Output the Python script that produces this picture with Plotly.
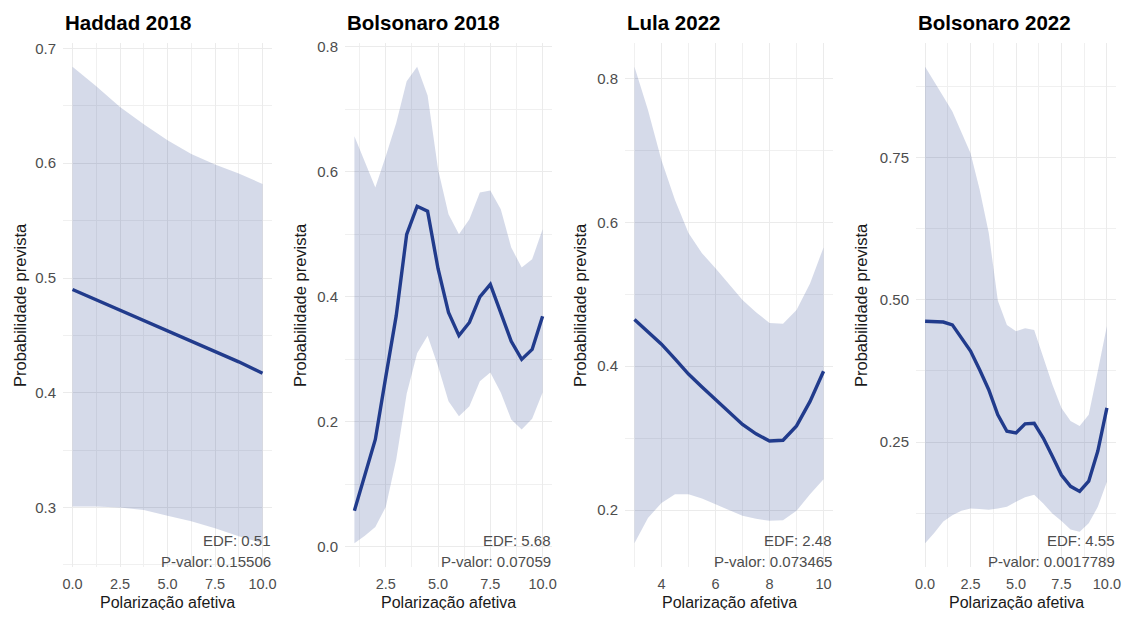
import plotly.graph_objects as go
from plotly.subplots import make_subplots

# Haddad 2018
x_h18 = [0, 1.25, 2.5, 3.75, 5, 6.25, 7.5, 8.75, 10]
fit_h18 = [0.490, 0.481, 0.472, 0.463, 0.454, 0.445, 0.436, 0.427, 0.417]
up_h18 = [0.684, 0.667, 0.649, 0.634, 0.620, 0.608, 0.599, 0.591, 0.582]
lo_h18 = [0.301, 0.301, 0.300, 0.298, 0.293, 0.288, 0.282, 0.275, 0.269]

# Bolsonaro 2018
x_b18 = [1, 1.5, 2, 2.5, 3, 3.5, 4, 4.5, 5, 5.5, 6, 6.5, 7, 7.5, 8, 8.5, 9, 9.5, 10]
fit_b18 = [0.058, 0.115, 0.172, 0.272, 0.37, 0.50, 0.545, 0.537, 0.445, 0.375,
           0.338, 0.359, 0.40, 0.42, 0.375, 0.329, 0.30, 0.316, 0.369]
up_b18 = [0.657, 0.616, 0.575, 0.625, 0.678, 0.745, 0.768, 0.722, 0.604, 0.532,
          0.50, 0.524, 0.567, 0.570, 0.54, 0.479, 0.447, 0.46, 0.508]
lo_b18 = [0.006, 0.018, 0.032, 0.064, 0.14, 0.245, 0.31, 0.338, 0.289, 0.233,
          0.209, 0.225, 0.265, 0.279, 0.247, 0.204, 0.188, 0.205, 0.247]

# Lula 2022
x_l22 = [3, 3.5, 4, 4.5, 5, 5.5, 6, 6.5, 7, 7.5, 8, 8.5, 9, 9.5, 10]
fit_l22 = [0.465, 0.448, 0.4305, 0.41, 0.389, 0.371, 0.354, 0.336, 0.319, 0.306,
           0.296, 0.297, 0.317, 0.351, 0.393]
up_l22 = [0.816, 0.756, 0.686, 0.631, 0.585, 0.557, 0.536, 0.514, 0.492, 0.475,
          0.46, 0.459, 0.478, 0.515, 0.565]
lo_l22 = [0.154, 0.189, 0.21, 0.222, 0.222, 0.216, 0.208, 0.200, 0.192, 0.188,
          0.185, 0.186, 0.199, 0.222, 0.243]

# Bolsonaro 2022
x_b22 = [0, 0.5, 1, 1.5, 2, 2.5, 3, 3.5, 4, 4.5, 5, 5.5, 6, 6.5, 7, 7.5, 8, 8.5, 9, 9.5, 10]
fit_b22 = [0.4625, 0.462, 0.461, 0.456, 0.433, 0.41, 0.377, 0.342, 0.298, 0.269, 0.266,
           0.282, 0.283, 0.257, 0.225, 0.192, 0.172, 0.163, 0.181, 0.234, 0.31]
up_b22 = [0.910, 0.885, 0.858, 0.8315, 0.796, 0.758, 0.694, 0.618, 0.499, 0.456, 0.445,
          0.450, 0.447, 0.398, 0.351, 0.31, 0.287, 0.278, 0.298, 0.375, 0.454]
lo_b22 = [0.072, 0.09, 0.11, 0.121, 0.129, 0.133, 0.132, 0.131, 0.133, 0.136, 0.145,
          0.153, 0.157, 0.142, 0.124, 0.111, 0.096, 0.092, 0.107, 0.136, 0.18]

titles = ["Haddad 2018", "Bolsonaro 2018", "Lula 2022", "Bolsonaro 2022"]
edf = ["EDF: 0.51", "EDF: 5.68", "EDF: 2.48", "EDF: 4.55"]
pval = ["P-valor: 0.15506", "P-valor: 0.07059", "P-valor: 0.073465", "P-valor: 0.0017789"]

xticks = [[0, 2.5, 5, 7.5, 10], [2.5, 5, 7.5, 10], [4, 6, 8, 10], [0, 2.5, 5, 7.5, 10]]
xticktext = [["0.0", "2.5", "5.0", "7.5", "10.0"], ["2.5", "5.0", "7.5", "10.0"],
             ["4", "6", "8", "10"], ["0.0", "2.5", "5.0", "7.5", "10.0"]]
xminor = [1.25, 1.25, 1, 1.25]
yticks = [[0.3, 0.4, 0.5, 0.6, 0.7], [0.0, 0.2, 0.4, 0.6, 0.8], [0.2, 0.4, 0.6, 0.8], [0.25, 0.5, 0.75]]
yticktext = [["0.3", "0.4", "0.5", "0.6", "0.7"], ["0.0", "0.2", "0.4", "0.6", "0.8"],
             ["0.2", "0.4", "0.6", "0.8"], ["0.25", "0.50", "0.75"]]
yminor = [0.05, 0.1, 0.1, 0.125]

panels = [(x_h18, fit_h18, up_h18, lo_h18), (x_b18, fit_b18, up_b18, lo_b18),
          (x_l22, fit_l22, up_l22, lo_l22), (x_b22, fit_b22, up_b22, lo_b22)]

# the page body has an 8px margin, so the figure is drawn 16px smaller
OFF = 8
W, H = 1130 - 2 * OFF, 618 - 2 * OFF
left_px = [63, 345, 625, 916]
right_px = [272, 552, 833, 1116]
ytitle_px = [20, 300, 580, 861]
top_px, bot_px = 43, 567


def px(v):
    return min(1, max(0, (v - OFF) / W))


def py(v):
    return 1 - (v - OFF) / H


navy = "#213b8c"
fillc = "rgba(33,59,140,0.19)"
grid = "#ebebeb"
font = "Liberation Sans, Arial, sans-serif"

fig = make_subplots(rows=1, cols=4)

for i, (xs, fit, up, lo) in enumerate(panels):
    c = i + 1
    fig.add_trace(go.Scatter(x=xs, y=lo, mode="lines", line=dict(width=0, color=navy),
                             showlegend=False, hoverinfo="skip"), row=1, col=c)
    fig.add_trace(go.Scatter(x=xs, y=up, mode="lines", line=dict(width=0, color=navy),
                             fill="tonexty", fillcolor=fillc, showlegend=False,
                             hoverinfo="skip"), row=1, col=c)
    fig.add_trace(go.Scatter(x=xs, y=fit, mode="lines", line=dict(width=3.4, color=navy),
                             showlegend=False), row=1, col=c)

    # ggplot-like 5% expansion
    x0, x1 = min(xs), max(xs)
    y0, y1 = min(lo), max(up)
    dx, dy = (x1 - x0) * 0.05, (y1 - y0) * 0.05

    sfx = "" if c == 1 else str(c)
    fig.layout["xaxis" + sfx].update(
        domain=[px(left_px[i]), px(right_px[i])], range=[x0 - dx, x1 + dx],
        tickvals=xticks[i], ticktext=xticktext[i], showgrid=True, gridcolor=grid,
        gridwidth=1.1, zeroline=False, showline=False, ticks="",
        tickfont=dict(size=14.5, color="#4d4d4d", family=font), ticklabelstandoff=6,
        minor=dict(tick0=0, dtick=xminor[i], showgrid=True, gridcolor="#f0f0f0", gridwidth=0.8),
        automargin=False, fixedrange=True)
    fig.layout["yaxis" + sfx].update(
        domain=[py(bot_px), py(top_px)], range=[y0 - dy, y1 + dy],
        tickvals=yticks[i], ticktext=yticktext[i], showgrid=True, gridcolor=grid,
        gridwidth=1.1, zeroline=False, showline=False, ticks="",
        tickfont=dict(size=15, color="#4d4d4d", family=font), ticklabelstandoff=6,
        minor=dict(tick0=0, dtick=yminor[i], showgrid=True, gridcolor="#f0f0f0", gridwidth=0.8),
        automargin=False, fixedrange=True)

    xd = "x" + sfx + " domain"
    fig.add_annotation(text="<b>" + titles[i] + "</b>", xref=xd, yref="paper",
                       x=0, y=py(22), xanchor="left", yanchor="middle", showarrow=False,
                       font=dict(size=20.5, color="black", family=font))
    fig.add_annotation(text=edf[i], xref=xd, yref="paper", x=1.005, y=py(540),
                       xanchor="right", yanchor="middle", showarrow=False,
                       font=dict(size=15, color="#4d4d4d", family=font))
    fig.add_annotation(text=pval[i], xref=xd, yref="paper", x=1.005, y=py(561),
                       xanchor="right", yanchor="middle", showarrow=False,
                       font=dict(size=15, color="#4d4d4d", family=font))
    fig.add_annotation(text="Polarização afetiva", xref=xd, yref="paper", x=0.5,
                       y=py(602), xanchor="center", yanchor="middle", showarrow=False,
                       font=dict(size=16, color="#1a1a1a", family=font))
    fig.add_annotation(text="Probabilidade prevista", xref="paper", yref="paper",
                       x=px(ytitle_px[i]), y=py((top_px + bot_px) / 2), textangle=-90,
                       xanchor="center", yanchor="middle", showarrow=False,
                       font=dict(size=16.5, color="#1a1a1a", family=font))

fig.update_layout(width=W, height=H, margin=dict(l=0, r=0, t=0, b=0),
                  plot_bgcolor="white", paper_bgcolor="white",
                  font=dict(family=font), showlegend=False)

fig.write_html("out.html")
